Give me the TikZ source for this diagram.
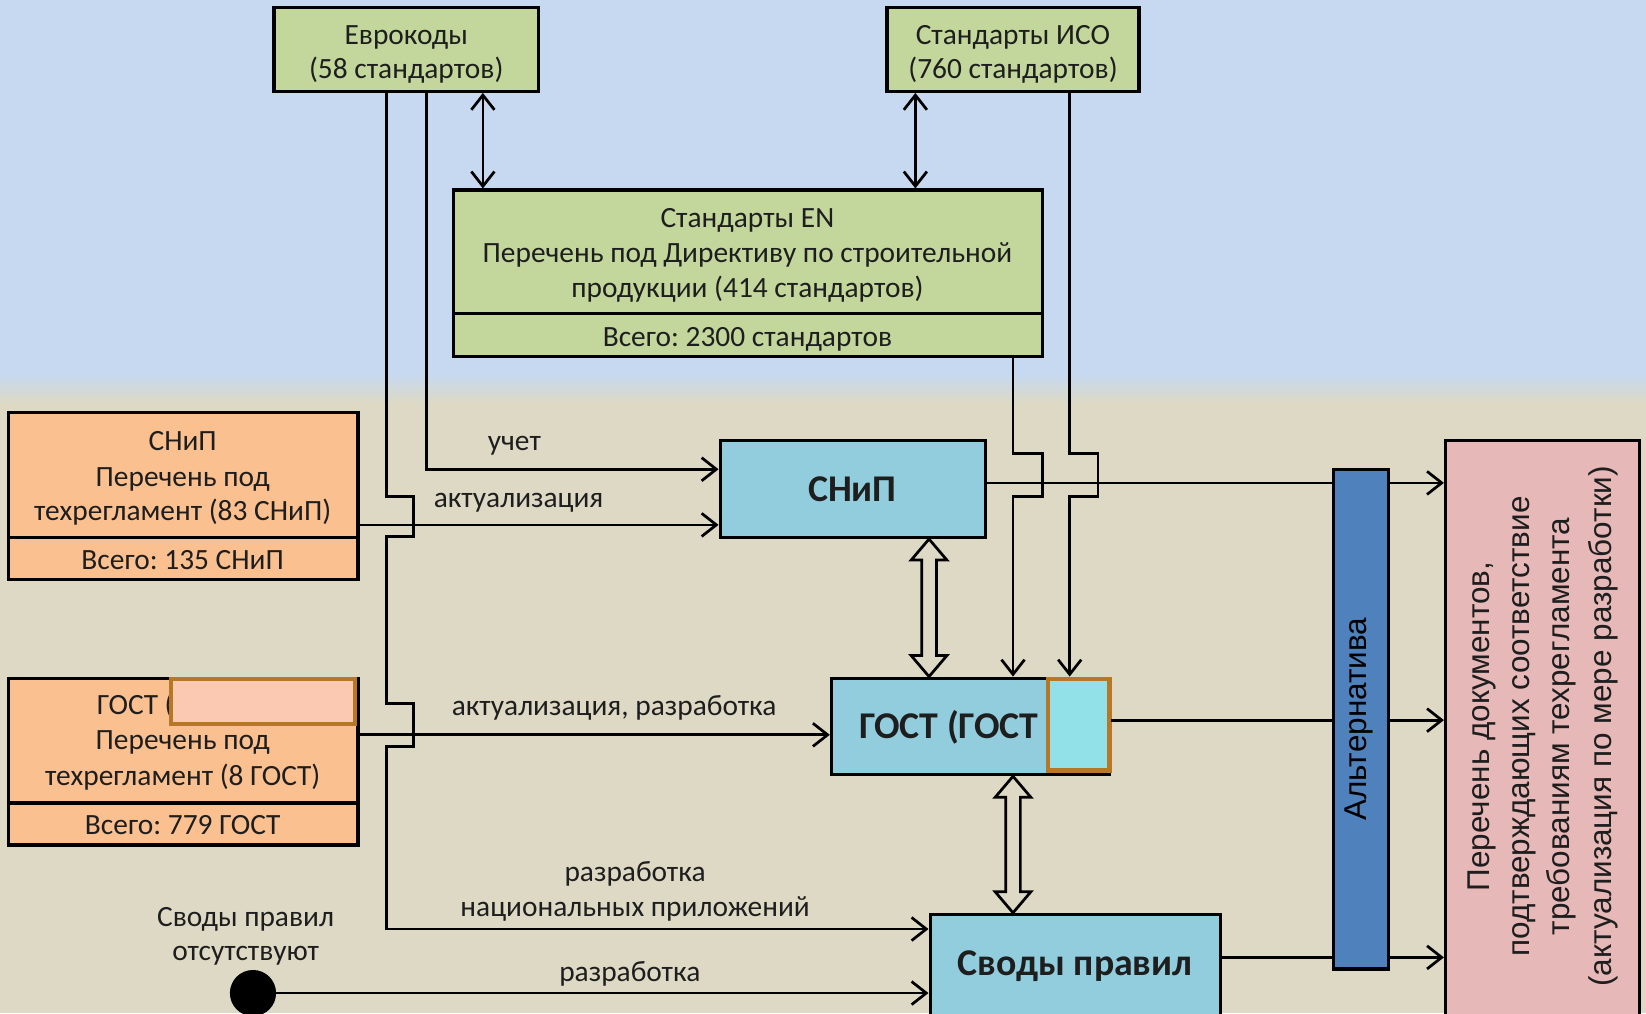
\documentclass[tikz,border=0pt]{standalone}
\usepackage{fontspec}
\setmainfont{Carlito}
\newfontfamily\arialf{Liberation Sans}
\usetikzlibrary{arrows.meta,fit,calc}
\definecolor{bgblue}{RGB}{198,217,241}
\definecolor{bgbeige}{RGB}{221,217,196}
\definecolor{cgreen}{RGB}{195,214,155}
\definecolor{corange}{RGB}{250,192,144}
\definecolor{csalmon}{RGB}{251,200,178}
\definecolor{cbrown}{RGB}{182,120,38}
\definecolor{clblue}{RGB}{146,205,221}
\definecolor{ccyan}{RGB}{146,224,232}
\definecolor{calt}{RGB}{79,129,189}
\definecolor{cpink}{RGB}{230,185,184}
\definecolor{ctxt}{RGB}{30,30,30}
\frenchspacing
\begin{document}
\frenchspacing
\begin{tikzpicture}[x=0.5pt,y=-0.5pt,
  box/.style={draw=black, line width=1.5pt, inner sep=0pt},
  cover/.style={draw=cbrown, line width=2pt, inner sep=0pt},
  lbl/.style={font=\fontsize{14}{16.5}\selectfont, text=ctxt, inner sep=0pt, anchor=mid, yshift=-2.2pt},
  big/.style={font=\fontsize{18}{20}\selectfont\bfseries, text=ctxt, inner sep=0pt, anchor=mid, yshift=-3.3pt},
  rot/.style={font=\arialf\fontsize{15}{18}\selectfont, text=ctxt, inner sep=0pt, anchor=mid, rotate=90},
  conn/.style={line width=1.3pt, draw=black},
  arr/.style={conn, -{Straight Barb[length=7pt,width=11pt]}},
  dbl/.style={conn, {Straight Barb[length=7pt,width=11pt]}-{Straight Barb[length=7pt,width=11pt]}},
  hollow/.style={line width=1.3pt, draw=black, fill=bgbeige, line join=miter}]
\useasboundingbox (0,0) rectangle (1568,965);
\clip (0,0) rectangle (1568,965);
% background
\fill[bgblue] (0,0) rectangle (1568,372);
\fill[bgbeige] (0,372) rectangle (1568,965);
\shade[top color=bgblue, bottom color=bgbeige] (0,356) rectangle (1568,384);

% boxes (except the bar)
\node[box, fill=cgreen, fit={(261,7)(513,87)}] (evro) {};
\node[box, fill=cgreen, fit={(845,7)(1085,87)}] (iso) {};
\node[box, fill=cgreen, fit={(432,181)(993,340)}] (en) {};
\node[box, fill=corange, fit={(8,393)(341,552)}] (snipL) {};
\node[box, fill=corange, fit={(8,646)(341,805)}] (gostL) {};
\node[box, fill=clblue, fit={(686,420)(939,512)}] (snipB) {};
\node[box, fill=clblue, fit={(792,646)(1057,738)}] (gostB) {};
\node[box, fill=clblue, fit={(886,871)(1163,985)}] (svody) {};
\node[box, fill=cpink, fit={(1377,420)(1562,985)}] (pink) {};

% dividers
\draw[line width=1.5pt] (en.west |- 0,299) -- (en.east |- 0,299);
\draw[line width=1.5pt] (snipL.west |- 0,512) -- (snipL.east |- 0,512);
\draw[line width=1.5pt] (gostL.west |- 0,765) -- (gostL.east |- 0,765);

% texts
\node[lbl] (t1) at (387,33) {Еврокоды};
\node[lbl] (t2) at (387,66) {(58 стандартов)};
\node[lbl] (t3) at (965,33) {Стандарты ИСО};
\node[lbl] (t4) at (965,66) {(760 стандартов)};
\node[lbl] (t5) at (712,208) {Стандарты EN};
\node[lbl] (t6) at (712,241) {Перечень под Директиву по строительной};
\node[lbl] (t7) at (712,274) {продукции (414 стандартов)};
\node[lbl] (t8) at (712,321) {Всего: 2300 стандартов};
\node[lbl] (t9) at (174,420) {СНиП};
\node[lbl] (t10) at (174,454) {Перечень под};
\node[lbl] (t11) at (174,487) {техрегламент (83 СНиП)};
\node[lbl] (t12) at (174,533) {Всего: 135 СНиП};
\node[lbl, anchor=mid west] (t13) at (92,671) {ГОСТ (};
\node[lbl] (t14) at (174,705) {Перечень под};
\node[lbl] (t15) at (174,739) {техрегламент (8 ГОСТ)};
\node[lbl] (t16) at (174,786) {Всего: 779 ГОСТ};
\node[big] (t17) at (812,466) {СНиП};
\node[big, anchor=mid west] (t18) at (818,692) {ГОСТ (ГОСТ};
\node[big] (t19) at (1024,918) {Своды правил};
\node[lbl] (l1) at (490,420) {учет};
\node[lbl] (l2) at (494,474) {актуализация};
\node[lbl] (l3) at (585,672) {актуализация, разработка};
\node[lbl] (l4) at (605,831) {разработка};
\node[lbl] (l5) at (605,864) {национальных приложений};
\node[lbl] (l6) at (600,926) {разработка};
\node[lbl] (l7) at (234,873) {Своды правил};
\node[lbl] (l8) at (234,906) {отсутствуют};
\node[rot] (p1) at (1414,692) {Перечень документов,};
\node[rot] (p2) at (1452,692) {подтверждающих соответствие};
\node[rot] (p3) at (1490,692) {требованиям техрегламента};
\node[rot] (p4) at (1530,692) {(актуализация по мере разработки)};

% cover patches
\node[cover, fill=csalmon, fit={(163,647)(338,690)}] (gostLcov) {};
\node[cover, fill=ccyan, fit={(998,647)(1057,734)}] (gostBcov) {};

% start dot
\node[circle, fill=black, minimum size=22pt, inner sep=0pt] (dot) at (241,946) {};

% connectors
\draw[arr] (dot.center) -- (svody.west |- dot.center);
\draw[arr] (snipL.east |- 0,500) -- (snipB.west |- 0,500);
\draw[arr] (gostL.east |- 0,700) -- (gostB.west |- 0,700);
\draw[arr] (evro.south -| 406,0) -- (406,447) -- (snipB.west |- 0,447);
\draw[arr] (evro.south -| 368,0) -- (368,473) -- (394,473) -- (394,511) -- (368,511) -- (368,670) -- (394,670) -- (394,711) -- (368,711) -- (368,885) -- (svody.west |- 0,885);
\draw[dbl] (evro.south -| 460,0) -- (en.north -| 460,0);
\draw[dbl] (iso.south -| 872,0) -- (en.north -| 872,0);
\draw[arr] (en.south -| 965,0) -- (965,432) -- (993,432) -- (993,473) -- (965,473) -- (gostB.north -| 965,0);
\draw[arr] (iso.south -| 1019,0) -- (1019,432) -- (1046,432) -- (1046,473) -- (1019,473) -- (gostB.north -| 1019,0);
\draw[arr] (snipB.east |- 0,460) -- (pink.west |- 0,460);
\draw[arr] (gostB.east |- 0,686) -- (pink.west |- 0,686);
\draw[arr] (svody.east |- 0,912) -- (pink.west |- 0,912);

% hollow double arrows
\coordinate (h1a) at (snipB.south -| 885,0);
\coordinate (h1b) at (gostB.north -| 885,0);
\draw[hollow] (h1a) -- ($(h1a)+(17,20)$) -- ($(h1a)+(7,20)$) -- ($(h1b)+(7,-20)$) -- ($(h1b)+(17,-20)$) -- (h1b) -- ($(h1b)+(-17,-20)$) -- ($(h1b)+(-7,-20)$) -- ($(h1a)+(-7,20)$) -- ($(h1a)+(-17,20)$) -- cycle;
\coordinate (h2a) at (gostB.south -| 965,0);
\coordinate (h2b) at (svody.north -| 965,0);
\draw[hollow] (h2a) -- ($(h2a)+(17,20)$) -- ($(h2a)+(7,20)$) -- ($(h2b)+(7,-20)$) -- ($(h2b)+(17,-20)$) -- (h2b) -- ($(h2b)+(-17,-20)$) -- ($(h2b)+(-7,-20)$) -- ($(h2a)+(-7,20)$) -- ($(h2a)+(-17,20)$) -- cycle;

% alternative bar (on top of the lines)
\node[box, fill=calt, fit={(1270,447)(1323,923)}] (alt) {};
\node[rot, text=black] (altt) at (alt.center) {Альтернатива};
\end{tikzpicture}
\end{document}
